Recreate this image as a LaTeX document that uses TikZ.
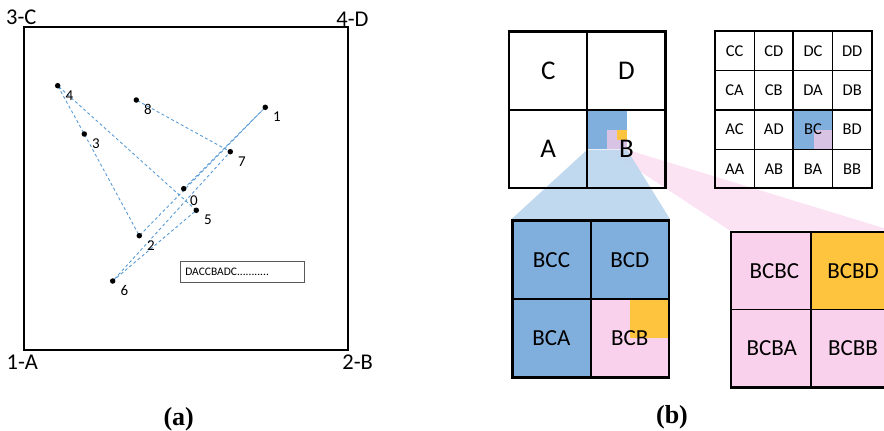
\documentclass[tikz,border=0pt]{standalone}
\usepackage{fontspec}
\setmainfont{Carlito}
\newfontfamily\capfont{Liberation Serif}
\usetikzlibrary{backgrounds}
\definecolor{walkblue}{HTML}{5B9BD5}
\definecolor{cellblue}{HTML}{80AEDD}
\definecolor{fanblue}{HTML}{BDD7EE}
\definecolor{cellpink}{HTML}{F9D1EC}
\definecolor{fanpink}{HTML}{FCE3F4}
\definecolor{lavender}{HTML}{D9C3E5}
\definecolor{gold}{HTML}{FFC43D}
\tikzset{
    dot/.style={circle,fill=black,inner sep=0pt,minimum size=5.5pt},
    ptlabel/.style={font=\fontsize{15}{17}\selectfont,label distance=1.5pt},
    corner/.style={font=\fontsize{22.5}{24}\selectfont},
    walk/.style={draw=walkblue,dash pattern=on 3pt off 2.5pt,line width=0.9pt},
    frame/.style={draw,line width=2.4pt,inner sep=0pt},
    cell/.style={draw,line width=1.8pt,inner sep=0pt},
    thincell/.style={draw,line width=1.1pt,inner sep=0pt,minimum size=39.2pt,font=\fontsize{16.5}{18}\selectfont},
    patch/.style={inner sep=0pt,anchor=north west},
    caption/.style={font=\capfont\bfseries\fontsize{26}{28}\selectfont}
}
\begin{document}
\begin{tikzpicture}[x=1pt,y=-1pt]
    \useasboundingbox (0,0) rectangle (884,431);
    \node [draw,line width=2pt,inner sep=0pt,minimum width=324pt,minimum height=323.3pt] (area) at (185.5,188.3) {};
    \node [corner] (cC) at (21.3,17.5) {3-C};
    \node [corner] (cD) at (352.5,18.8) {4-D};
    \node [corner] (cA) at (22.3,362) {1-A};
    \node [corner] (cB) at (357.7,362) {2-B};
    \foreach \n/\x/\y/\a in {0/183.7/188.7/-50,1/265.3/107.3/-15,2/139.3/235.7/-15,3/84.3/134/-15,
            4/57.7/85.7/-15,5/196.3/210.3/-15,6/112.7/281/-15,7/230.3/151.7/-15,8/136.3/100/-15}
        \node [dot,label={[ptlabel]\a:\n}] (p\n) at (\x,\y) {};
    \begin{pgfonlayer}{background}
        \draw [walk] (p0.center) \foreach \n in {1,...,8} {-- (p\n.center)};
    \end{pgfonlayer}
    \node [draw=black!65,line width=1pt,anchor=west,text width=115pt,inner sep=4.5pt,minimum height=21pt,
        font=\fontsize{11.5}{13}\selectfont] (code) at (180.3,271.5) {DACCBADC...........};
    \node [caption] (capA) at (178.7,419) {(a)};
    \node [patch,fill=cellblue,minimum size=39.2pt] (sBC) at (587.3,110) {};
    \node [patch,fill=lavender,minimum size=19.6pt] (sBCB) at (606.9,129.6) {};
    \node [patch,fill=gold,minimum size=9.8pt] (sBCBD) at (616.7,129.6) {};
    \foreach \q/\i/\j in {C/0/0,D/1/0,A/0/1,B/1/1}
        \node [cell,minimum size=78.3pt,font=\fontsize{27}{29}\selectfont] (q\q) at ({548.2+78.3*\i},{70.9+78.3*\j}) {\q};
    \node [frame,minimum size=156.7pt] (big) at (587.3,109.5) {};
    \node [patch,fill=cellblue,minimum size=39.2pt] (tBC) at (794,110) {};
    \node [patch,fill=lavender,minimum size=19.6pt] (tBCB) at (813.6,129.6) {};
    \foreach \row [count=\j from 0] in {{CC,CD,DC,DD},{CA,CB,DA,DB},{AC,AD,BC,BD},{AA,AB,BA,BB}}
        \foreach \lab [count=\i from 0] in \row
            \node [thincell] (c\lab) at ({734.6+39.2*\i},{51.3+39.2*\j}) {\lab};
    \node [frame,minimum size=156.7pt] (small) at (793.4,109.5) {};
    \draw [line width=2pt] (small.north) -- (small.south) (small.west) -- (small.east);
    \foreach \lab/\c/\i/\j in {BCC/cellblue/0/0,BCD/cellblue/1/0,BCA/cellblue/0/1,BCB/cellpink/1/1}
        \node [fill=\c,inner sep=0pt,minimum size=78.3pt] (b\lab) at ({551.5+78.3*\i},{259.85+78.3*\j}) {};
    \node [patch,fill=gold,minimum size=39.2pt] (bBCBD) at (629.8,299) {};
    \foreach \lab in {BCC,BCD,BCA,BCB}
        \node [font=\fontsize{23}{25}\selectfont] at (b\lab) {\lab};
    \node [frame,minimum size=156.7pt] (gBC) at (590.65,299) {};
    \draw [line width=1.8pt] (gBC.north) -- (gBC.south) (gBC.west) -- (gBC.east);
    \foreach \lab/\c/\i/\j/\dx in {BCBC/cellpink/0/0/7,BCBD/gold/1/0/5,BCBA/cellpink/0/1/2,BCBB/cellpink/1/1/5}
        \node [fill=\c,inner sep=0pt,minimum width=79.7pt,minimum height=77.8pt,font=\fontsize{23}{25}\selectfont,
            text depth=0pt] (r\lab) at ({770.85+79.7*\i},{270.6+77.8*\j}) {\hspace*{\dx pt}\lab};
    \node [frame,minimum width=159.4pt,minimum height=155.6pt] (gBCB) at (810.7,309.5) {};
    \draw [line width=1.8pt] (gBCB.north) -- (gBCB.south) (gBCB.west) -- (gBCB.east);
    \node [caption] (capB) at (672,417) {(b)};
    \begin{pgfonlayer}{background}
        \fill [fanpink] (sBCB.south west) -- (gBCB.north west) -- (gBCB.north east) -- (sBCB.south east) -- cycle;
        \fill [fanblue,opacity=0.95] (sBC.south west) -- (gBC.north west) -- (gBC.north east) -- (sBC.south east) -- cycle;
    \end{pgfonlayer}
\end{tikzpicture}
\end{document}
